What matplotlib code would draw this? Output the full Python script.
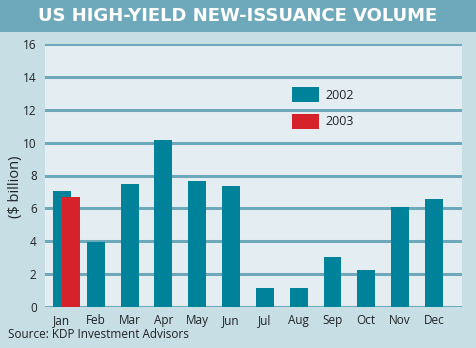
import matplotlib
matplotlib.use("Agg")
import matplotlib.pyplot as plt
from matplotlib.patches import Rectangle, Patch
import numpy as np

# Monthly US high-yield new issuance ($ billion)
months = ["Jan", "Feb", "Mar", "Apr", "May", "Jun",
          "Jul", "Aug", "Sep", "Oct", "Nov", "Dec"]
vol_2002 = [7.05, 3.95, 7.5, 10.15, 7.65, 7.35, 1.15, 1.15, 3.05, 2.25, 6.1, 6.55]
vol_2003 = [6.7]  # only January available
yticks = [0, 2, 4, 6, 8, 10, 12, 14, 16]

TEAL = "#00829a"
RED = "#d6222b"
BAR_BG = "#6ea9bb"
BG = "#c7dee5"
PLOT_BG = "#e4eef2"
TXT = "#1f2326"

W, H = 476, 348
fig = plt.figure(figsize=(W / 100, H / 100), dpi=100, facecolor=BG)
plt.rcParams["font.family"] = ["Open Sans", "DejaVu Sans"]

# title strip
fig.patches.append(Rectangle((0, 1 - 32 / H), 1, 32 / H, transform=fig.transFigure,
                             facecolor=BAR_BG, edgecolor="none", zorder=0))
fig.text(0.5, 1 - 16 / H, "US HIGH-YIELD NEW-ISSUANCE VOLUME", color="white",
         fontsize=13, fontweight="bold", ha="center", va="center",
         family="DejaVu Sans")

ax = fig.add_axes([45 / W, (H - 307) / H, 417 / W, 263 / H])
ax.set_facecolor(PLOT_BG)
for s in ax.spines.values():
    s.set_visible(False)

x = np.arange(len(months))
bw = 0.53
ax.bar(x, vol_2002, width=bw, color=TEAL, zorder=3)
ax.bar(x[:len(vol_2003)] + 0.27, vol_2003, width=bw, color=RED, zorder=4)

ax.set_xlim(-0.5, 11.83)
ax.set_ylim(0, 16)
ax.set_yticks(yticks)
ax.yaxis.grid(True, color=BAR_BG, linewidth=2.2, zorder=1)
ax.set_axisbelow(True)
ax.set_xticks(x)
ax.set_xticklabels(months)
ax.tick_params(length=0, labelsize=8.5, colors=TXT)
ax.tick_params(axis="y", pad=6)
ax.tick_params(axis="x", pad=5)

fig.text(15 / W, 1 - 187 / H, "($ billion)", rotation=90, fontsize=10.5,
         color=TXT, ha="center", va="center")

handles = [Patch(facecolor=TEAL, label="2002"), Patch(facecolor=RED, label="2003")]
ax.legend(handles=handles, loc="upper left", bbox_to_anchor=(0.566, 0.878),
          frameon=False, fontsize=9, handlelength=2.16, handleheight=1.44,
          labelspacing=0.95, handletextpad=0.5, borderpad=0.4, labelcolor=TXT)

fig.text(8 / W, 1 - 335 / H, "Source: KDP Investment Advisors", fontsize=8.5,
         color=TXT, ha="left", va="center")

fig.savefig("out.png", dpi=100, facecolor=BG)
